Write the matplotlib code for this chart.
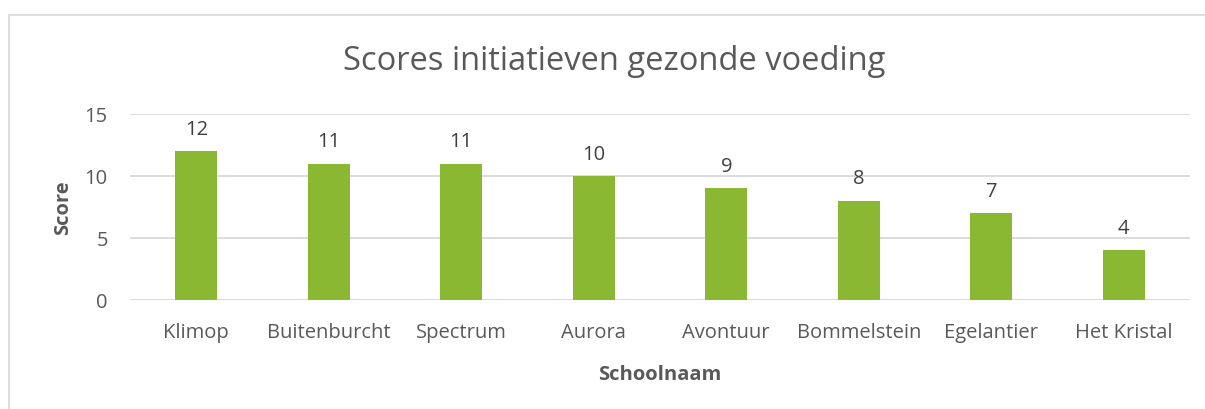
import matplotlib
matplotlib.use("Agg")
import matplotlib.pyplot as plt
from matplotlib.patches import Rectangle

schools = ["Klimop", "Buitenburcht", "Spectrum", "Aurora", "Avontuur", "Bommelstein", "Egelantier", "Het Kristal"]
scores = [12, 11, 11, 10, 9, 8, 7, 4]
yticks = [0, 5, 10, 15]

plt.rcParams['font.family'] = ['Open Sans', 'DejaVu Sans']
W, H = 1205, 410
fig = plt.figure(figsize=(W/100, H/100), dpi=100)
ax = fig.add_axes([130/W, 1-301/H, (1190-130)/W, (301-115)/H])

txt = '#595959'
green = '#8AB833'
x = list(range(len(schools)))
ax.bar(x, scores, width=0.32, color=green, zorder=3)
for xi, v in zip(x, scores):
    ax.annotate(str(v), (xi, v), xytext=(0, 9), textcoords='offset points',
                ha='center', va='bottom', fontsize=14.5, color='#404040')
ax.set_xlim(-0.5, len(schools)-0.5)
ax.set_ylim(0, 15)
ax.set_yticks(yticks)
ax.set_xticks(x)
ax.set_xticklabels(schools)
ax.tick_params(length=0, labelsize=14.5, colors=txt, pad=16)
ax.tick_params(axis='y', pad=16)
for s in ax.spines.values():
    s.set_visible(False)
ax.yaxis.grid(True, color='#D9D9D9', linewidth=1.3, zorder=0)
ax.set_axisbelow(True)
ax.set_xlabel('Schoolnaam', fontsize=14.5, fontweight='bold', color=txt, labelpad=16)
ax.set_ylabel('Score', fontsize=14.5, fontweight='bold', color=txt, labelpad=8)
fig.text(614/W, 1-62/H, 'Scores initiatieven gezonde voeding', ha='center', va='center',
         fontsize=23.5, color=txt)
fig.patches.append(Rectangle((9/W, -0.1), 1.2, 1-16/H+0.1, transform=fig.transFigure,
                             fill=False, edgecolor='#D9D9D9', linewidth=1.2))
fig.savefig('out.png', dpi=100, facecolor='white')
